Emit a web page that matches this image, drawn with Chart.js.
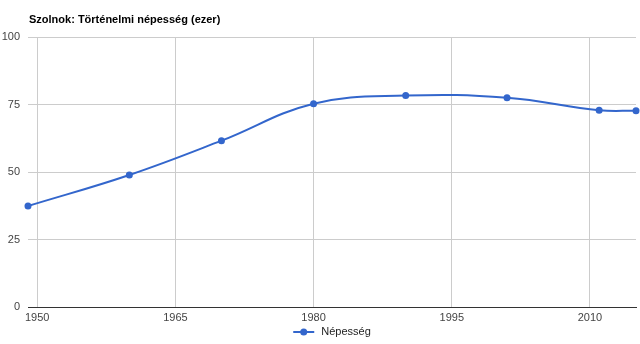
<!DOCTYPE html>
<html><head><meta charset="utf-8">
<script src="https://cdn.jsdelivr.net/npm/chart.js@4/dist/chart.umd.min.js"></script>
<style>html,body{margin:0;padding:0;background:#fff}#w{width:640px;height:344px;position:relative}</style>
</head><body><div id="w"><canvas id="c"></canvas></div>
<script>
const chartTitle = 'Szolnok: Történelmi népesség (ezer)';
const seriesName = 'Népesség';
const years = [1949, 1960, 1970, 1980, 1990, 2001, 2011, 2015];
const population = [37.4, 48.9, 61.6, 75.3, 78.3, 77.5, 72.9, 72.7];
const xTicks = [1950, 1965, 1980, 1995, 2010];
const yTicks = [0, 25, 50, 75, 100];

const COLOR = '#3366cc';
const FONT = 'Liberation Sans, Arial, sans-serif';

const titleLegendPlugin = {
  id: 'titleLegend',
  afterDraw(chart) {
    const ctx = chart.ctx;
    const a = chart.chartArea;
    ctx.save();
    ctx.font = 'bold 11px ' + FONT;
    ctx.fillStyle = '#000';
    ctx.textBaseline = 'alphabetic';
    ctx.textAlign = 'left';
    ctx.fillText(chartTitle, a.left + 1, 23);
    // legend (centered under the plot area)
    ctx.font = '11px ' + FONT;
    const tw = ctx.measureText(seriesName).width;
    const iconW = 21, gap = 7;
    const total = iconW + gap + tw;
    const x0 = (a.left + a.right) / 2 - total / 2;
    const y = 332;
    ctx.strokeStyle = COLOR; ctx.lineWidth = 2;
    ctx.beginPath(); ctx.moveTo(x0, y); ctx.lineTo(x0 + iconW, y); ctx.stroke();
    ctx.fillStyle = COLOR; ctx.beginPath(); ctx.arc(x0 + iconW / 2, y, 3.5, 0, Math.PI * 2); ctx.fill();
    ctx.fillStyle = '#222'; ctx.textBaseline = 'middle';
    ctx.fillText(seriesName, x0 + iconW + gap, y);
    ctx.restore();
  }
};

new Chart(document.getElementById('c'), {
  type: 'line',
  data: {
    datasets: [{
      label: seriesName,
      data: years.map((y, i) => ({x: y, y: population[i]})),
      borderColor: COLOR,
      backgroundColor: COLOR,
      borderWidth: 2,
      pointRadius: 3.5,
      pointBackgroundColor: COLOR,
      pointBorderWidth: 0,
      tension: 0.4,
      clip: false,
      fill: false
    }]
  },
  options: {
    responsive: true,
    maintainAspectRatio: false,
    animation: false,
    layout: {padding: {top: 37, right: 4, left: 0, bottom: 0}},
    plugins: {
      title: {display: false},
      tooltip: {enabled: false},
      legend: {display: false}
    },
    scales: {
      x: {
        type: 'linear',
        min: 1949, max: 2015,
        afterBuildTicks(s) { s.ticks = xTicks.map(v => ({value: v})); },
        afterFit(s) { s.height = 37; },
        ticks: {
          font: {family: FONT, size: 11}, color: '#444', padding: 4,
          maxRotation: 0, autoSkip: false,
          callback: v => String(v)
        },
        grid: {color: '#cccccc', drawTicks: false, lineWidth: 1},
        border: {display: true, color: '#333333', width: 1}
      },
      y: {
        min: 0, max: 100,
        afterBuildTicks(s) { s.ticks = yTicks.map(v => ({value: v})); },
        afterFit(s) { s.width = 28; },
        ticks: {font: {family: FONT, size: 11}, color: '#444', padding: 8},
        grid: {color: c => c.tick && c.tick.value === 0 ? '#333333' : '#cccccc', drawTicks: false, lineWidth: 1},
        border: {display: false}
      }
    }
  },
  plugins: [titleLegendPlugin]
});
</script></body></html>
